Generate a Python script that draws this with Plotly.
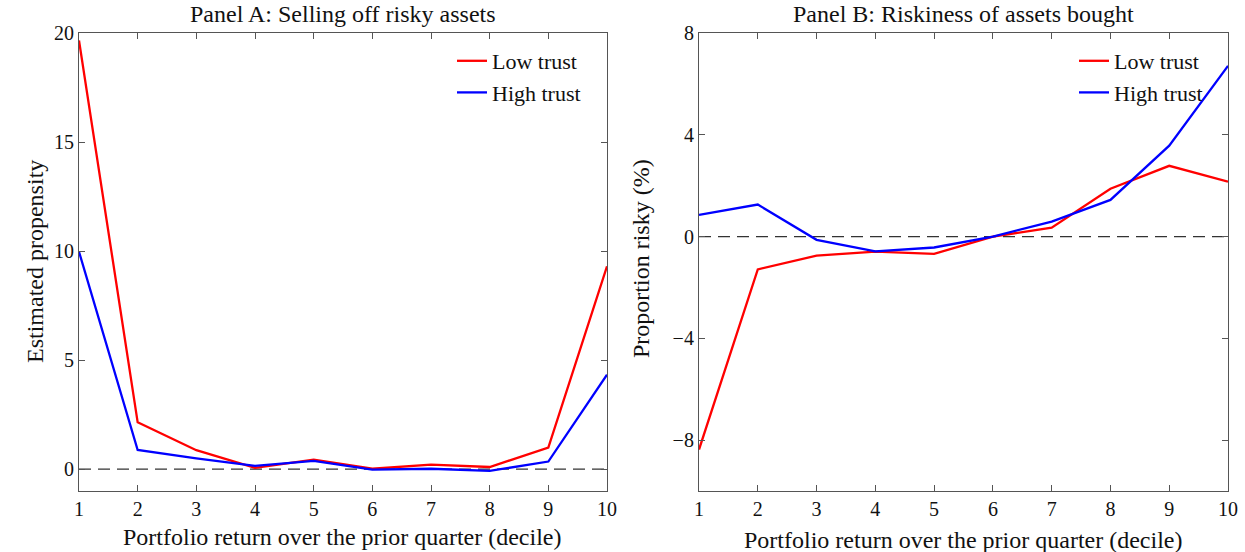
import plotly.graph_objects as go

deciles = [1, 2, 3, 4, 5, 6, 7, 8, 9, 10]

# Panel A: Selling off risky assets (estimated propensity)
a_low = [19.66, 2.15, 0.87, 0.06, 0.44, 0.02, 0.21, 0.10, 0.99, 9.3]
a_high = [9.97, 0.88, 0.50, 0.15, 0.38, -0.02, 0.02, -0.08, 0.35, 4.33]

# Panel B: Riskiness of assets bought (proportion risky, %)
b_low = [-8.37, -1.29, -0.75, -0.59, -0.68, 0.0, 0.35, 1.88, 2.78, 2.16]
b_high = [0.85, 1.26, -0.13, -0.58, -0.43, 0.0, 0.59, 1.44, 3.57, 6.71]

a_ticks = [0, 5, 10, 15, 20]
b_ticks = [-8, -4, 0, 4, 8]

FONT = "Liberation Serif"
RED = "#ff0000"
BLUE = "#0000ff"
AX = "#555555"
TXT = "#111111"
W, H = 1245, 552

fig = go.Figure()
fig.add_trace(go.Scatter(x=deciles, y=a_low, mode="lines", name="Low trust",
                         line=dict(color=RED, width=2.3), xaxis="x", yaxis="y", legend="legend"))
fig.add_trace(go.Scatter(x=deciles, y=a_high, mode="lines", name="High trust",
                         line=dict(color=BLUE, width=2.3), xaxis="x", yaxis="y", legend="legend"))
fig.add_trace(go.Scatter(x=deciles, y=b_low, mode="lines", name="Low trust",
                         line=dict(color=RED, width=2.3), xaxis="x2", yaxis="y2", legend="legend2"))
fig.add_trace(go.Scatter(x=deciles, y=b_high, mode="lines", name="High trust",
                         line=dict(color=BLUE, width=2.3), xaxis="x2", yaxis="y2", legend="legend2"))

for xr, yr in (("x", "y"), ("x2", "y2")):
    fig.add_shape(type="line", xref=f"{xr} domain", yref=yr, x0=0, x1=1, y0=0, y1=0,
                  line=dict(color="#333333", width=1.2, dash="12px,7px"), layer="below")

ydom = [1 - 491 / H, 1 - 33 / H]
axis_common = dict(showgrid=False, zeroline=False, showline=True, linecolor=AX, linewidth=1.2,
                   mirror="ticks", ticks="inside", ticklen=6, tickcolor=AX, tickwidth=1,
                   tickfont=dict(family=FONT, size=20, color=TXT))

legend_common = dict(xanchor="left", yanchor="middle", bgcolor="rgba(0,0,0,0)",
                     font=dict(family=FONT, size=22, color=TXT), tracegroupgap=0,
                     itemwidth=30, y=1 - 77 / H)

fig.update_layout(
    width=W, height=H,
    margin=dict(l=0, r=0, t=0, b=0, pad=0, autoexpand=False),
    paper_bgcolor="white", plot_bgcolor="white",
    font=dict(family=FONT, color=TXT),
    xaxis=dict(domain=[79 / W, 607 / W], range=[1, 10], tickvals=deciles,
               anchor="y", **axis_common),
    yaxis=dict(domain=ydom, range=[-1, 20], tickvals=a_ticks, anchor="x", **axis_common),
    xaxis2=dict(domain=[699 / W, 1228 / W], range=[1, 10], tickvals=deciles,
                anchor="y2", **axis_common),
    yaxis2=dict(domain=ydom, range=[-10, 8], tickvals=b_ticks, anchor="x2", **axis_common),
    legend=dict(x=452 / W, **legend_common),
    legend2=dict(x=1074 / W, **legend_common),
)

annots = [
    dict(text="Panel A: Selling off risky assets", x=(79 + 607) / 2 / W, y=1 - 14 / H),
    dict(text="Panel B: Riskiness of assets bought", x=(699 + 1228) / 2 / W, y=1 - 14 / H),
    dict(text="Portfolio return over the prior quarter (decile)", x=(79 + 607) / 2 / W,
         y=1 - 537 / H),
    dict(text="Portfolio return over the prior quarter (decile)", x=(699 + 1228) / 2 / W,
         y=1 - 540 / H),
]
for a in annots:
    fig.add_annotation(xref="paper", yref="paper", showarrow=False, xanchor="center",
                       yanchor="middle", font=dict(family=FONT, size=24, color=TXT), **a)
fig.add_annotation(text="Estimated propensity", xref="paper", yref="paper", x=20 / W,
                   y=1 - 262 / H, textangle=-90, showarrow=False,
                   font=dict(family=FONT, size=24, color=TXT))
fig.add_annotation(text="Proportion risky (%)", xref="paper", yref="paper", x=641 / W,
                   y=1 - 259 / H, textangle=-90, showarrow=False,
                   font=dict(family=FONT, size=24, color=TXT))

fig.write_html("out.html", config={"displayModeBar": False},
               post_script="document.body.style.margin='0';document.body.style.overflow='hidden';")
